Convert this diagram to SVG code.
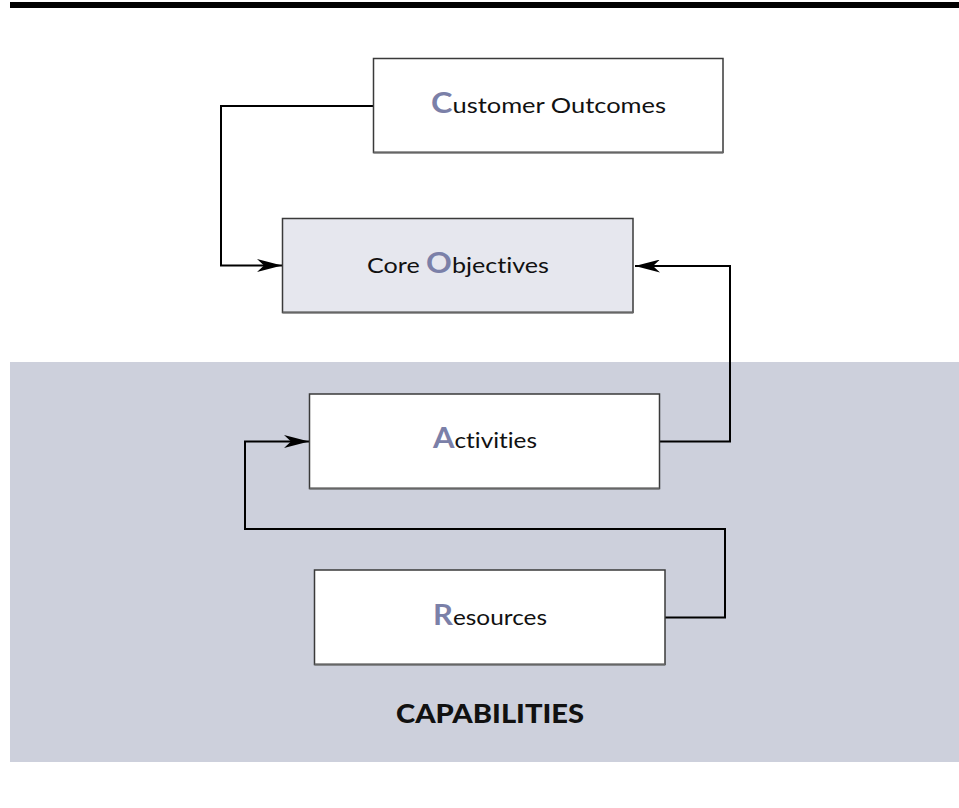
<svg xmlns="http://www.w3.org/2000/svg" width="959" height="808" viewBox="0 0 959 808">
  <style>
    .box { fill: #ffffff; stroke: #3a3a3a; stroke-width: 1.5; }
    .box.core { fill: #e6e7ee; }
    .shadow { stroke: #666; stroke-width: 2; fill: none; }
    .lbl { font-family: Lato, "Open Sans", "Liberation Sans", sans-serif; font-size: 22px; fill: #111; font-variant-ligatures: none; }
    .init { font-weight: bold; font-size: 28px; fill: #7b80a8; }
    .cap { font-family: Lato, "Open Sans", "Liberation Sans", sans-serif; font-size: 26px; font-weight: 900; fill: #111; }
    .conn { fill: none; stroke: #000; stroke-width: 2; }
  </style>
  <defs>
    <marker id="arrow" viewBox="0 0 25 13" refX="25" refY="6.5" markerWidth="25" markerHeight="13" markerUnits="userSpaceOnUse" orient="auto">
      <path d="M0,0 L25,6.5 L0,13 L7,6.5 z" fill="#000"/>
    </marker>
  </defs>

  <rect id="top-bar" x="10" y="2" width="949" height="6" fill="#000"/>

  <g id="capabilities-panel">
    <rect x="10" y="362" width="949" height="400" fill="#cdd0dc"/>
    <text class="cap" x="396" y="723" textLength="188" lengthAdjust="spacingAndGlyphs">CAPABILITIES</text>
  </g>

  <g id="connectors">
    <path class="conn" d="M373,106 H221 V265.5 H282" marker-end="url(#arrow)"/>
    <path class="conn" d="M660,441.5 H730 V266 H635" marker-end="url(#arrow)"/>
    <path class="conn" d="M665,617.5 H725 V529 H245 V441.5 H309" marker-end="url(#arrow)"/>
  </g>

  <g id="customer-outcomes">
    <rect class="box" x="373.5" y="58.5" width="349.5" height="94"/>
    <line class="shadow" x1="373.5" y1="152.5" x2="723" y2="152.5"/>
    <text class="lbl" x="431" y="113" textLength="235" lengthAdjust="spacingAndGlyphs"><tspan class="init">C</tspan>ustomer Outcomes</text>
  </g>

  <g id="core-objectives">
    <rect class="box core" x="282.5" y="218.5" width="350.5" height="94"/>
    <line class="shadow" x1="282.5" y1="312.5" x2="633" y2="312.5"/>
    <text class="lbl" x="367" y="273" textLength="182" lengthAdjust="spacingAndGlyphs">Core <tspan class="init">O</tspan>bjectives</text>
  </g>

  <g id="activities">
    <rect class="box" x="309.5" y="394" width="350" height="94.5"/>
    <line class="shadow" x1="309.5" y1="488.5" x2="659.5" y2="488.5"/>
    <text class="lbl" x="433" y="448" textLength="104" lengthAdjust="spacingAndGlyphs"><tspan class="init">A</tspan>ctivities</text>
  </g>

  <g id="resources">
    <rect class="box" x="314.5" y="570" width="350.5" height="94.5"/>
    <line class="shadow" x1="314.5" y1="664.5" x2="665" y2="664.5"/>
    <text class="lbl" x="433" y="625" textLength="114" lengthAdjust="spacingAndGlyphs"><tspan class="init">R</tspan>esources</text>
  </g>
</svg>
